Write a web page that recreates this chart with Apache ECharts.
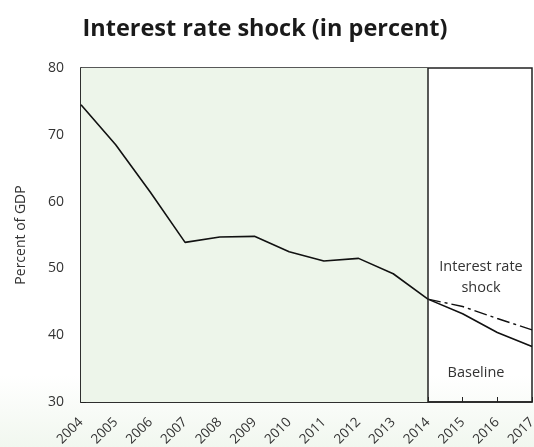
<!DOCTYPE html>
<html>
<head>
<meta charset="utf-8">
<script src="https://cdn.jsdelivr.net/npm/echarts@6/dist/echarts.min.js"></script>
<style>
  html, body { margin: 0; padding: 0; }
  body {
    width: 534px; height: 447px;
    background: linear-gradient(to bottom, #ffffff 0%, #ffffff 84%, #f1f7ef 100%);
  }
  #chart { width: 534px; height: 447px; }
</style>
</head>
<body>
<div id="chart"></div>
<script>
// Public debt path, percent of GDP
const years = ['2004','2005','2006','2007','2008','2009','2010','2011','2012','2013','2014','2015','2016','2017'];
const baseline = [74.5, 68.5, 61.4, 53.9, 54.7, 54.8, 52.5, 51.1, 51.5, 49.2, 45.4, 43.2, 40.4, 38.3];
const shock    = [null, null, null, null, null, null, null, null, null, null, 45.4, 44.3, 42.5, 40.8];
const historyStart = '2004';
const historyEnd = '2014';
const yTicks = { min: 30, max: 80, step: 10 };

const FONT = '"Open Sans", sans-serif';
const chart = echarts.init(document.getElementById('chart'), null, { renderer: 'canvas' });

chart.setOption({
  backgroundColor: 'transparent',
  animation: false,
  title: {
    text: 'Interest rate shock (in percent)',
    left: 260, top: 12, textAlign: 'center',
    textStyle: { fontFamily: FONT, fontWeight: 'bold', fontSize: 23.5, color: '#1a1a1a' }
  },
  grid: {
    left: 81, right: 2, top: 68, bottom: 45,
    outerBoundsMode: 'none',
    show: true, borderColor: '#222', borderWidth: 1.5, backgroundColor: 'transparent'
  },
  xAxis: {
    type: 'category',
    data: years,
    boundaryGap: false,
    axisLine: { show: true, lineStyle: { color: '#222', width: 1.5 } },
    axisTick: { show: true, inside: true, length: 5, lineStyle: { color: '#222' } },
    axisLabel: {
      rotate: 45, margin: 18, interval: 0, verticalAlign: 'middle',
      fontFamily: FONT, fontSize: 13.5, color: '#333'
    },
    splitLine: { show: false }
  },
  yAxis: {
    type: 'value',
    min: yTicks.min, max: yTicks.max, interval: yTicks.step,
    name: 'Percent of GDP',
    nameLocation: 'middle', nameGap: 53, nameRotate: 90,
    nameTextStyle: { fontFamily: FONT, fontSize: 14, color: '#333' },
    axisLine: { show: true, lineStyle: { color: '#222', width: 1.5 } },
    axisTick: { show: true, inside: true, length: 5, lineStyle: { color: '#222' } },
    axisLabel: { margin: 17, fontFamily: FONT, fontSize: 14, color: '#333' },
    splitLine: { show: false }
  },
  series: [
    {
      name: 'Baseline',
      type: 'line',
      data: baseline,
      symbol: 'none',
      lineStyle: { color: '#111', width: 1.6 },
      markArea: {
        silent: true,
        itemStyle: { color: '#edf5ea' },
        data: [[{ xAxis: historyStart }, { xAxis: historyEnd }]]
      },
      markLine: {
        silent: true, symbol: 'none', label: { show: false },
        lineStyle: { color: '#222', width: 1.5, type: 'solid' },
        data: [{ xAxis: historyEnd }]
      },
      z: 3
    },
    {
      name: 'Interest rate shock',
      type: 'line',
      data: shock,
      symbol: 'none',
      connectNulls: false,
      lineStyle: { color: '#111', width: 1.4, type: [13, 4, 3, 4] },
      z: 3
    }
  ],
  graphic: [
    {
      type: 'text', x: 481, y: 267,
      style: { text: 'Interest rate', fontFamily: FONT, fontSize: 14.5, fill: '#333', align: 'center', verticalAlign: 'middle' }
    },
    {
      type: 'text', x: 481, y: 288,
      style: { text: 'shock', fontFamily: FONT, fontSize: 14.5, fill: '#333', align: 'center', verticalAlign: 'middle' }
    },
    {
      type: 'text', x: 476, y: 373,
      style: { text: 'Baseline', fontFamily: FONT, fontSize: 14.5, fill: '#333', align: 'center', verticalAlign: 'middle' }
    }
  ]
});
</script>
</body>
</html>
